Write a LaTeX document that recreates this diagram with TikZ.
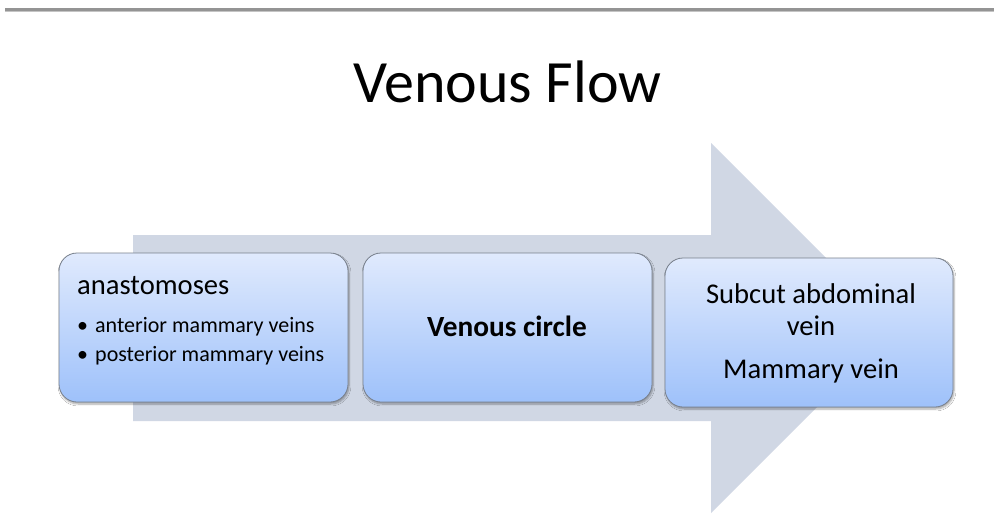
\documentclass[tikz,border=0pt]{standalone}
\usepackage{fontspec}
\setmainfont{Carlito}
\usetikzlibrary{shadows.blur}
\definecolor{arrowfill}{RGB}{208,215,228}
\definecolor{boxtop}{RGB}{224,234,253}
\definecolor{boxbot}{RGB}{158,193,250}
\definecolor{boxborder}{RGB}{120,128,140}
\definecolor{rulegray}{RGB}{148,148,148}
\begin{document}
\begin{tikzpicture}[x=1pt,y=-1pt,
  box/.style={draw=boxborder, line width=0.8pt, rounded corners=18pt,
    top color=boxtop, bottom color=boxbot,
    minimum width=289pt, minimum height=149pt, inner sep=0pt,
    blur shadow={shadow xshift=1pt, shadow yshift=-2pt, shadow blur steps=6, shadow opacity=35}},
  big/.style={font=\fontsize{28.6}{34}\selectfont, anchor=base, text=black, inner sep=0pt},
  small/.style={font=\fontsize{22}{26}\selectfont, anchor=base west, text=black, inner sep=0pt}]
\useasboundingbox (0,0) rectangle (994,514);
\fill[white] (0,0) rectangle (994,514);
% top rule
\fill[rulegray] (5,8) rectangle (994,10.5);
\fill[rulegray!55] (5,10.5) rectangle (994,11.8);
% title
\node[font=\fontsize{60}{72}\selectfont, anchor=base, inner sep=0pt] (title) at (507.5,102) {Venous Flow};
% big arrow
\fill[arrowfill] (133,235) -- (711,235) -- (711,143) -- (896,328) -- (711,513) -- (711,421) -- (133,421) -- cycle;
% boxes
\node[box] (b1) at (203.5,327.5) {};
\node[box] (b2) at (507.5,327.5) {};
\node[box, minimum width=288pt] (b3) at (809,332.5) {};
% box 1 text
\node[big, anchor=base west] (t1) at (77,294) {anastomoses};
\node[small, anchor=base] (d1) at (82.5,332) {•};
\node[small] (t1a) at (95,332) {anterior mammary veins};
\node[small, anchor=base] (d2) at (82.5,361) {•};
\node[small] (t1b) at (95,361) {posterior mammary veins};
% box 2 text
\node[big, font=\fontsize{29.3}{34}\selectfont\bfseries] (t2) at (507,336) {Venous circle};
% box 3 text
\node[big] (t3a) at (811,303.5) {Subcut abdominal};
\node[big] (t3b) at (811,335) {vein};
\node[big] (t3c) at (811,378.5) {Mammary vein};
\end{tikzpicture}
\end{document}
